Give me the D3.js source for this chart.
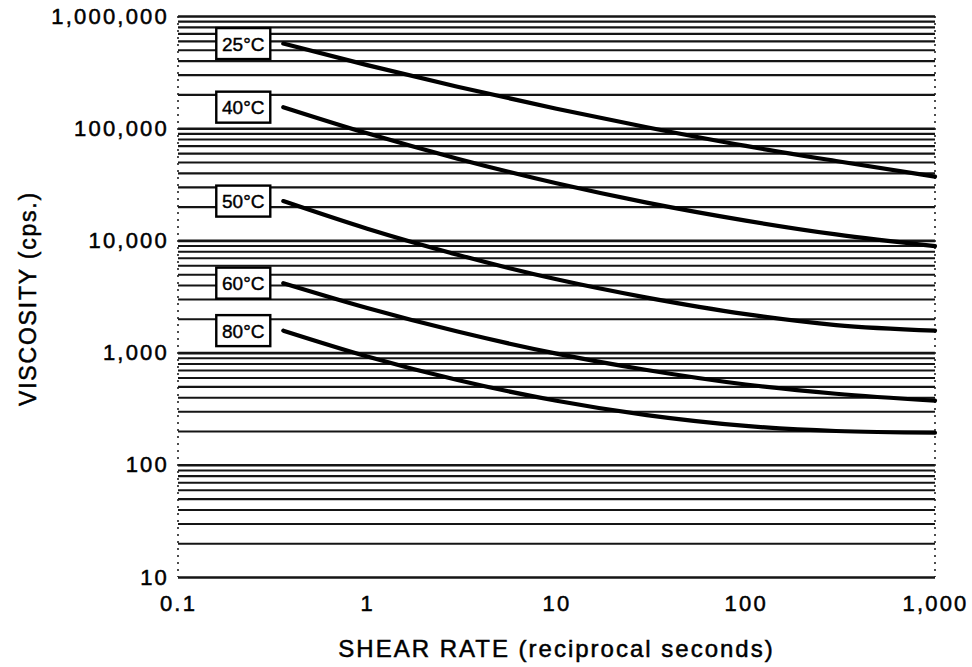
<!DOCTYPE html>
<html>
<head>
<meta charset="utf-8">
<script src="https://cdn.jsdelivr.net/npm/d3@7"></script>
<style>
  html, body { margin: 0; padding: 0; background: #fff; }
  svg { display: block; }
  text { font-family: "Liberation Sans", Arial, sans-serif; fill: #000; }
</style>
</head>
<body>
<div id="chart"></div>
<script>
const shearRate = [0.36, 1, 3, 10, 30, 100, 300, 1000]
const visc25 = [568000, 365000, 234000, 149000, 102000, 69500, 51000, 37000]
const visc40 = [154000, 90000, 53500, 32300, 21700, 15000, 11300, 8900]
const visc50 = [22400, 12700, 7450, 4500, 3090, 2200, 1760, 1570]
const visc60 = [4160, 2500, 1540, 980, 700, 520, 430, 373]
const visc80 = [1570, 925, 570, 372, 277, 222, 200, 193]
const seriesLabels = ["25°C", "40°C", "50°C", "60°C", "80°C"]
const xTicks = [0.1, 1, 10, 100, 1000]
const yTicks = [10, 100, 1000, 10000, 100000, 1000000]

const series = [visc25, visc40, visc50, visc60, visc80].map((values, i) => ({
  label: seriesLabels[i],
  points: shearRate.map((rate, j) => [rate, values[j]])
}))

const width = 972
const height = 667
const margin = {top: 16, right: 37, bottom: 90, left: 178}
const innerWidth = width - margin.left - margin.right
const innerHeight = height - margin.top - margin.bottom

const x = d3.scaleLog().domain([0.1, 1000]).range([0, innerWidth])
const y = d3.scaleLog().domain([10, 1000000]).range([innerHeight, 0])

const svg = d3.select("#chart").append("svg")
  .attr("width", width)
  .attr("height", height)

svg.append("rect").attr("width", width).attr("height", height).attr("fill", "#fff")

const g = svg.append("g").attr("transform", `translate(${margin.left},${margin.top})`)

// horizontal grid at every log step (1..9 per decade)
const gridValues = []
for (let p = 1; p <= 5; p++) {
  for (let n = 1; n <= 9; n++) gridValues.push(n * Math.pow(10, p))
}
gridValues.push(1000000)

g.append("g")
  .attr("class", "grid")
  .call(d3.axisLeft(y).tickValues(gridValues).tickSize(-innerWidth).tickFormat(""))
  .call(group => group.select(".domain").remove())
  .call(group => group.selectAll("line")
    .attr("stroke", "#151515")
    .attr("stroke-width", d => Math.log10(d) % 1 === 0 ? 2.6 : 2.1))

// dotted side borders
g.append("line")
  .attr("x1", 0).attr("x2", 0).attr("y1", 0).attr("y2", innerHeight)
  .attr("stroke", "#222").attr("stroke-width", 1.6).attr("stroke-dasharray", "2,5")
g.append("line")
  .attr("x1", innerWidth).attr("x2", innerWidth).attr("y1", 0).attr("y2", innerHeight)
  .attr("stroke", "#222").attr("stroke-width", 1.6).attr("stroke-dasharray", "2,5")

const styleText = sel => sel
  .attr("font-family", "Liberation Sans, Arial, sans-serif")
  .attr("fill", "#000")
  .attr("stroke", "#000")
  .attr("stroke-width", 0.5)

// y axis labels
g.append("g")
  .call(d3.axisLeft(y).tickValues(yTicks).tickSize(0).tickPadding(9).tickFormat(d3.format(",")))
  .call(group => group.select(".domain").remove())
  .call(group => group.selectAll("text")
    .attr("font-size", 22)
    .attr("letter-spacing", 2.2)
    .call(styleText))

// x axis labels
g.append("g")
  .attr("transform", `translate(0,${innerHeight})`)
  .call(d3.axisBottom(x).tickValues(xTicks).tickSize(0).tickPadding(18)
    .tickFormat(d => d < 1 ? "0.1" : d3.format(",")(d)))
  .call(group => group.select(".domain").remove())
  .call(group => group.selectAll("text")
    .attr("font-size", 22)
    .attr("letter-spacing", 2.2)
    .call(styleText))

const line = d3.line()
  .x(point => x(point[0]))
  .y(point => y(point[1]))
  .curve(d3.curveMonotoneX)

series.forEach(s => {
  g.append("path")
    .datum(s.points)
    .attr("fill", "none")
    .attr("stroke", "#000")
    .attr("stroke-width", 4.2)
    .attr("stroke-linecap", "round")
    .attr("d", line)
})

// boxed labels at the curve starts
const boxW = 54
const boxH = 31
series.forEach(s => {
  const [rate, value] = s.points[0]
  const bx = x(rate) - 13 - boxW
  const by = y(value) - boxH / 2
  const label = g.append("g").attr("transform", `translate(${bx},${by})`)
  label.append("rect")
    .attr("width", boxW).attr("height", boxH)
    .attr("fill", "#fff").attr("stroke", "#000").attr("stroke-width", 2.4)
  label.append("text")
    .attr("x", boxW / 2).attr("y", boxH / 2 + 7)
    .attr("text-anchor", "middle")
    .attr("font-size", 19)
    .attr("stroke", "#000")
    .attr("stroke-width", 0.4)
    .text(s.label)
})

svg.append("text")
  .attr("x", margin.left + innerWidth / 2)
  .attr("y", 657)
  .attr("text-anchor", "middle")
  .attr("font-size", 24)
  .attr("letter-spacing", 2)
  .attr("stroke", "#000")
  .attr("stroke-width", 0.5)
  .text("SHEAR RATE (reciprocal seconds)")

svg.append("text")
  .attr("transform", `translate(36,${margin.top + innerHeight / 2 + 2}) rotate(-90)`)
  .attr("text-anchor", "middle")
  .attr("font-size", 23)
  .attr("letter-spacing", 1.8)
  .attr("stroke", "#000")
  .attr("stroke-width", 0.5)
  .text("VISCOSITY (cps.)")
</script>
</body>
</html>
